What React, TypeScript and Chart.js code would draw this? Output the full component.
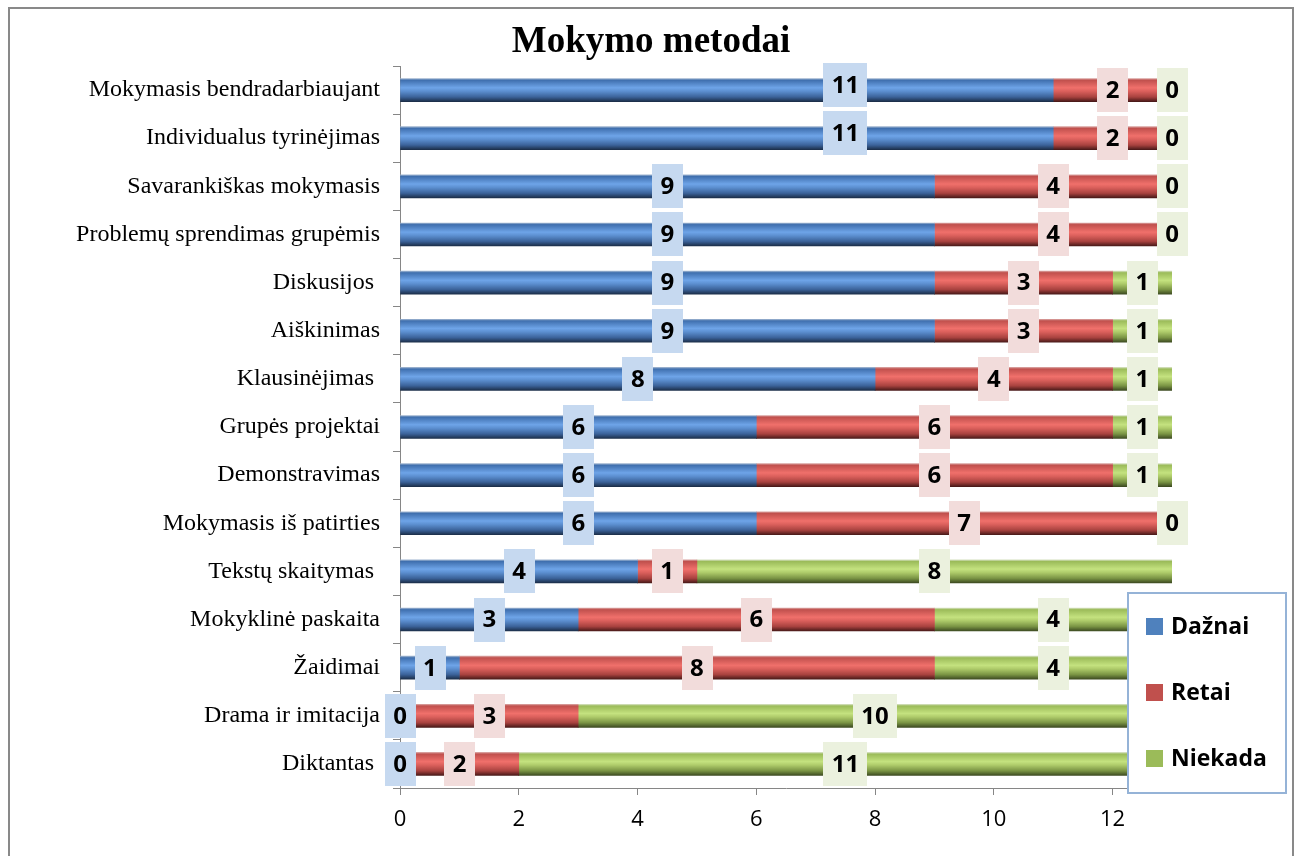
import React, { useEffect, useRef } from "react";
import { Chart, registerables } from "chart.js";

Chart.register(...registerables);

const title = "Mokymo metodai";

const categories = [
  "Mokymasis bendradarbiaujant",
  "Individualus tyrinėjimas",
  "Savarankiškas mokymasis",
  "Problemų sprendimas grupėmis",
  "Diskusijos ",
  "Aiškinimas",
  "Klausinėjimas ",
  "Grupės projektai",
  "Demonstravimas",
  "Mokymasis iš patirties",
  "Tekstų skaitymas ",
  "Mokyklinė paskaita",
  "Žaidimai",
  "Drama ir imitacija",
  "Diktantas ",
];

const seriesNames = ["Dažnai", "Retai", "Niekada"];
const daznai = [11, 11, 9, 9, 9, 9, 8, 6, 6, 6, 4, 3, 1, 0, 0];
const retai = [2, 2, 4, 4, 3, 3, 4, 6, 6, 7, 1, 6, 8, 3, 2];
const niekada = [0, 0, 0, 0, 1, 1, 1, 1, 1, 0, 8, 4, 4, 10, 11];

const xTicks = [0, 2, 4, 6, 8, 10, 12];
const xMax = 13;

const baseColors = ["#4F81BD", "#C0504D", "#9BBB59"];
const labelBg = ["#C6D9F0", "#F2DCDB", "#EBF1DE"];
const gradStops = [
  ["#9db3cf", "#3f6fae", "#6ea4e8", "#5c8fd0", "#3b6299", "#1c2f4a"],
  ["#d8a09e", "#c0504d", "#f0706b", "#db605c", "#a8423f", "#4a1a19"],
  ["#d3dfbd", "#9bbb59", "#c4e27f", "#aecb6a", "#7a9444", "#3e4c22"],
];
const stopPos = [0, 0.07, 0.4, 0.55, 0.8, 1];
const BAR = 23;

function makeBg(si: number) {
  return (ctx: any) => {
    if (ctx.type !== "data") return baseColors[si];
    const chart = ctx.chart;
    const y = chart.scales && chart.scales.y;
    if (!y) return baseColors[si];
    const yc = y.getPixelForValue(ctx.dataIndex);
    if (!isFinite(yc)) return baseColors[si];
    const g = chart.ctx.createLinearGradient(0, yc - BAR / 2, 0, yc + BAR / 2);
    gradStops[si].forEach((c, k) => g.addColorStop(stopPos[k], c));
    return g;
  };
}

const titlePlugin = {
  id: "pageTitle",
  afterDraw(chart: any, _args: any, o: any) {
    const c = chart.ctx;
    c.save();
    c.font = "bold 37px 'Liberation Serif', 'Times New Roman', serif";
    c.fillStyle = "#000";
    c.textAlign = "center";
    c.textBaseline = "alphabetic";
    c.fillText(o.text, chart.width / 2, o.baseline);
    c.restore();
  },
};

const labelPlugin = {
  id: "boxLabels",
  afterDatasetsDraw(chart: any, _args: any, opts: any) {
    const c = chart.ctx;
    const xs = chart.scales.x;
    c.save();
    c.font = "bold 24px 'Open Sans'";
    c.textAlign = "center";
    c.textBaseline = "middle";
    chart.data.datasets.forEach((ds: any, di: number) => {
      const meta = chart.getDatasetMeta(di);
      meta.data.forEach((el: any, j: number) => {
        const txt = String(ds.data[j]);
        let x = (el.x + el.base) / 2;
        let y = el.y;
        const ov = (opts.overrides || []).find((o: any) => o.ds === di && o.i === j);
        if (ov) {
          x = xs.getPixelForValue(ov.at);
          y += ov.dy;
        }
        const w = c.measureText(txt).width + 17;
        const h = 44;
        c.fillStyle = labelBg[di];
        c.fillRect(Math.round(x - w / 2), Math.round(y - h / 2), Math.round(w), h);
        c.fillStyle = "#000";
        c.fillText(txt, x, y + 1);
      });
    });
    c.restore();
  },
};

const legendPlugin = {
  id: "boxLegend",
  afterDraw(chart: any, _args: any, o: any) {
    const c = chart.ctx;
    c.save();
    c.fillStyle = "#fff";
    c.fillRect(o.x, o.y, o.w, o.h);
    c.strokeStyle = "#95B3D7";
    c.lineWidth = 2;
    c.strokeRect(o.x, o.y, o.w, o.h);
    c.font = "bold 23px 'Open Sans'";
    c.textAlign = "left";
    c.textBaseline = "middle";
    chart.data.datasets.forEach((ds: any, i: number) => {
      const cy = o.firstY + i * o.gap;
      c.fillStyle = baseColors[i];
      c.fillRect(o.x + 18, cy - 8.5, 17, 17);
      c.fillStyle = "#000";
      c.fillText(ds.label, o.x + 43, cy + 1);
    });
    c.restore();
  },
};

export default function App() {
  const ref = useRef<HTMLCanvasElement>(null);
  useEffect(() => {
    if (!ref.current) return;
    const chart = new Chart(ref.current, {
      type: "bar",
      data: {
        labels: categories,
        datasets: [daznai, retai, niekada].map((d, i) => ({
          label: seriesNames[i],
          data: d,
          backgroundColor: makeBg(i),
          borderWidth: 0,
          barThickness: BAR,
        })),
      },
      options: {
        indexAxis: "y",
        responsive: false,
        maintainAspectRatio: false,
        animation: false,
        devicePixelRatio: 1,
        layout: { padding: { left: 0, right: 120, top: 57, bottom: 0 } },
        plugins: {
          legend: { display: false },
          tooltip: { enabled: false },
          title: { display: false },
          pageTitle: { text: title, baseline: 43 },
          boxLabels: {
            overrides: [
              { ds: 0, i: 0, at: 7.5, dy: -5 },
              { ds: 0, i: 1, at: 7.5, dy: -5 },
            ],
          },
          boxLegend: { x: 1118, y: 584, w: 158, h: 200, firstY: 617.5, gap: 66 },
        } as any,
        scales: {
          x: {
            stacked: true,
            min: 0,
            max: xMax,
            afterBuildTicks: (axis: any) => {
              axis.ticks = xTicks.map((v) => ({ value: v }));
            },
            afterFit: (scale: any) => {
              scale.height = 68;
            },
            grid: { drawOnChartArea: false, drawTicks: true, tickLength: 7, color: "#868686" },
            border: { display: true, color: "#868686", width: 1 },
            ticks: {
              color: "#000",
              padding: 12,
              font: { family: "'Open Sans'", size: 22 },
              maxRotation: 0,
            },
          },
          y: {
            stacked: true,
            afterFit: (scale: any) => {
              scale.width = 390;
            },
            grid: { drawOnChartArea: false, drawTicks: true, tickLength: 7, color: "#868686", offset: true },
            border: { display: true, color: "#868686", width: 1 },
            ticks: {
              color: "#000",
              padding: 13,
              autoSkip: false,
              font: { family: "'Liberation Serif', 'Times New Roman', serif", size: 24 },
            },
          },
        },
      },
      plugins: [titlePlugin, labelPlugin, legendPlugin],
    });
    return () => chart.destroy();
  }, []);

  return (
    <div
      style={{
        position: "absolute",
        left: 8,
        top: 7,
        width: 1286,
        height: 849,
        border: "2px solid #898989",
        borderBottom: "none",
        boxSizing: "border-box",
        background: "#fff",
      }}
    >
      <canvas ref={ref} width={1282} height={847} style={{ display: "block" }} />
    </div>
  );
}
